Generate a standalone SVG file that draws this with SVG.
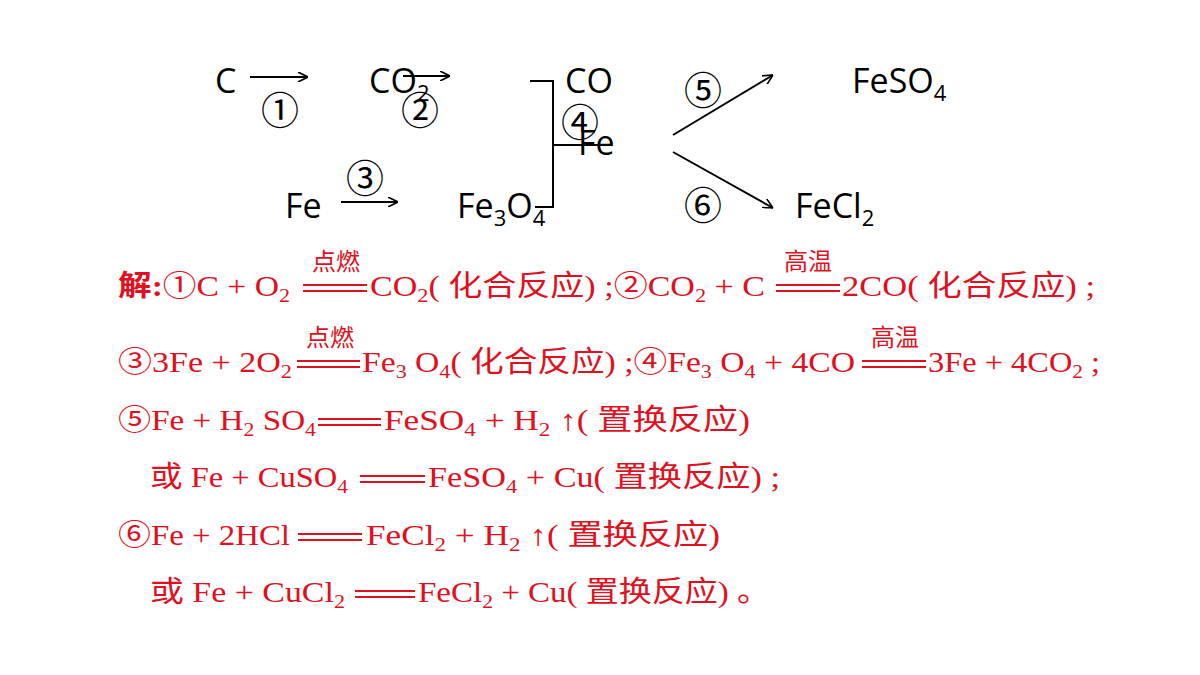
<svg xmlns="http://www.w3.org/2000/svg" width="1200" height="675" viewBox="0 0 1200 675">
<style>
.k{font-family:"Open Sans","Liberation Sans","Noto Sans CJK SC",sans-serif;font-size:34px;fill:#000}
.n{font-family:"Noto Sans CJK SC",sans-serif;font-size:38px;fill:#000}
.r{font-family:"Liberation Serif","Noto Sans CJK SC",serif;font-size:29px;fill:#e01020}
.c{font-family:"Noto Sans CJK SC",sans-serif;font-size:24px;fill:#e01020}
.s{font-size:19px}
.ln{stroke:#000;stroke-width:2;fill:none}
.eq{stroke:#e01020;stroke-width:2}
</style>
<defs><marker id="a" viewBox="0 0 10 10" refX="10" refY="5" markerWidth="10" markerHeight="10" markerUnits="userSpaceOnUse" orient="auto"><path d="M0,0L10,5L0,10" fill="none" stroke="#000" stroke-width="1.6"/></marker></defs>
<g id="connectors">
<line class="ln" x1="250" y1="77" x2="308" y2="77" marker-end="url(#a)"/>
<line class="ln" x1="403" y1="76" x2="450" y2="76" marker-end="url(#a)"/>
<line class="ln" x1="341" y1="202" x2="398" y2="202" marker-end="url(#a)"/>
<path class="ln" d="M530,81H553V207H535M553,145H605"/>
<line class="ln" x1="673" y1="135" x2="773" y2="75" marker-end="url(#a)"/>
<line class="ln" x1="673" y1="152" x2="773" y2="208" marker-end="url(#a)"/>
</g>
<g id="nC"><text class="k" x="215" y="93">C</text></g>
<g id="nCO2"><text class="k" x="369" y="93">CO<tspan dy="8" font-size="22">2</tspan></text></g>
<g id="nCO"><text class="k" x="565" y="93">CO</text></g>
<g id="nFe2"><text class="k" x="578" y="155">Fe</text></g>
<g id="nFe"><text class="k" x="285" y="218">Fe</text></g>
<g id="nFe3O4"><text class="k" x="457" y="218">Fe<tspan dy="8" font-size="22">3</tspan><tspan dy="-8">O</tspan><tspan dy="8" font-size="22">4</tspan></text></g>
<g id="nFeSO4"><text class="k" x="852" y="93">FeSO<tspan dy="8" font-size="22">4</tspan></text></g>
<g id="nFeCl2"><text class="k" x="795" y="218">FeCl<tspan dy="8" font-size="22">2</tspan></text></g>
<g id="labels" text-anchor="middle">
<text class="n" x="280" y="124">①</text>
<text class="n" x="420" y="124">②</text>
<text class="n" x="365" y="192">③</text>
<text class="n" x="580" y="136">④</text>
<text class="n" x="703" y="104">⑤</text>
<text class="n" x="703" y="219">⑥</text>
</g>
<g id="solution">
<g class="eq">
<line x1="303" y1="285" x2="367" y2="285"/><line x1="303" y1="291" x2="367" y2="291"/>
<line x1="776" y1="285" x2="840" y2="285"/><line x1="776" y1="291" x2="840" y2="291"/>
<line x1="297" y1="361" x2="360" y2="361"/><line x1="297" y1="367" x2="360" y2="367"/>
<line x1="862" y1="361" x2="926" y2="361"/><line x1="862" y1="367" x2="926" y2="367"/>
<line x1="318" y1="419" x2="381" y2="419"/><line x1="318" y1="425" x2="381" y2="425"/>
<line x1="360" y1="476" x2="425" y2="476"/><line x1="360" y1="482" x2="425" y2="482"/>
<line x1="298" y1="534" x2="362" y2="534"/><line x1="298" y1="540" x2="362" y2="540"/>
<line x1="355" y1="591" x2="415" y2="591"/><line x1="355" y1="597" x2="415" y2="597"/>
</g>
<text class="c" x="336" y="270" text-anchor="middle">点燃</text>
<text class="c" x="808" y="270" text-anchor="middle">高温</text>
<text class="c" x="330" y="346" text-anchor="middle">点燃</text>
<text class="c" x="895" y="346" text-anchor="middle">高温</text>
<text class="r" x="118" y="296" textLength="172" lengthAdjust="spacingAndGlyphs"><tspan font-weight="bold">解:</tspan>①C + O<tspan class="s" dy="6">2</tspan></text>
<text class="r" x="370" y="296" textLength="395" lengthAdjust="spacingAndGlyphs">CO<tspan class="s" dy="6">2</tspan><tspan dy="-6">( 化合反应) ;②CO</tspan><tspan class="s" dy="6">2</tspan><tspan dy="-6"> + C</tspan></text>
<text class="r" x="842" y="296" textLength="253" lengthAdjust="spacingAndGlyphs">2CO( 化合反应) ;</text>
<text class="r" x="118" y="372" textLength="174" lengthAdjust="spacingAndGlyphs">③3Fe + 2O<tspan class="s" dy="6">2</tspan></text>
<text class="r" x="362" y="372" textLength="493" lengthAdjust="spacingAndGlyphs">Fe<tspan class="s" dy="6">3</tspan><tspan dy="-6"> O</tspan><tspan class="s" dy="6">4</tspan><tspan dy="-6">( 化合反应) ;④Fe</tspan><tspan class="s" dy="6">3</tspan><tspan dy="-6"> O</tspan><tspan class="s" dy="6">4</tspan><tspan dy="-6"> + 4CO</tspan></text>
<text class="r" x="928" y="372" textLength="172" lengthAdjust="spacingAndGlyphs">3Fe + 4CO<tspan class="s" dy="6">2</tspan><tspan dy="-6"> ;</tspan></text>
<text class="r" x="118" y="430" textLength="198" lengthAdjust="spacingAndGlyphs">⑤Fe + H<tspan class="s" dy="6">2</tspan><tspan dy="-6"> SO</tspan><tspan class="s" dy="6">4</tspan></text>
<text class="r" x="384" y="430" textLength="366" lengthAdjust="spacingAndGlyphs">FeSO<tspan class="s" dy="6">4</tspan><tspan dy="-6"> + H</tspan><tspan class="s" dy="6">2</tspan><tspan dy="-6"> ↑( 置换反应)</tspan></text>
<text class="r" x="150" y="487" textLength="198" lengthAdjust="spacingAndGlyphs">或 Fe + CuSO<tspan class="s" dy="6">4</tspan></text>
<text class="r" x="428" y="487" textLength="352" lengthAdjust="spacingAndGlyphs">FeSO<tspan class="s" dy="6">4</tspan><tspan dy="-6"> + Cu( 置换反应) ;</tspan></text>
<text class="r" x="118" y="545" textLength="172" lengthAdjust="spacingAndGlyphs">⑥Fe + 2HCl</text>
<text class="r" x="366" y="545" textLength="354" lengthAdjust="spacingAndGlyphs">FeCl<tspan class="s" dy="6">2</tspan><tspan dy="-6"> + H</tspan><tspan class="s" dy="6">2</tspan><tspan dy="-6"> ↑( 置换反应)</tspan></text>
<text class="r" x="150" y="602" textLength="195" lengthAdjust="spacingAndGlyphs">或 Fe + CuCl<tspan class="s" dy="6">2</tspan></text>
<text class="r" x="418" y="602" textLength="352" lengthAdjust="spacingAndGlyphs">FeCl<tspan class="s" dy="6">2</tspan><tspan dy="-6"> + Cu( 置换反应) 。</tspan></text>
</g>
</svg>
